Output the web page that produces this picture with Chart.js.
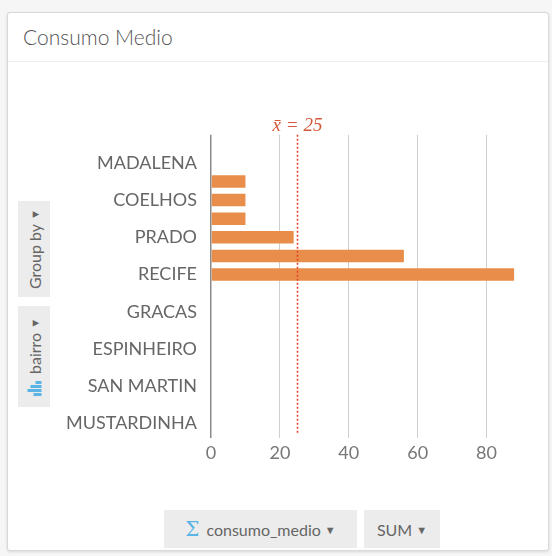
<!DOCTYPE html>
<html>
<head>
<meta charset="utf-8">
<script src="https://cdn.jsdelivr.net/npm/chart.js@4/dist/chart.umd.min.js"></script>
<style>
  html, body { margin: 0; padding: 0; }
  body { width: 552px; height: 556px; background: #f6f6f6; position: relative; overflow: hidden; font-family: Lato, "Open Sans", sans-serif; }
  .card { position: absolute; left: 7px; top: 12px; width: 540px; height: 537px; background: #fff;
          border: 1px solid #d8d8d8; border-radius: 3px; box-shadow: 0 1px 3px rgba(0,0,0,0.12); }
  .title { position: absolute; left: 15px; top: 11px; font-size: 21px; font-weight: 300; color: #555; }
  .sep { position: absolute; left: 0; right: 0; top: 48px; height: 1px; background: #efefef; }
  .vbtn { position: absolute; left: 10px; width: 32px; background: #ececec; color: #666; font-size: 16px; }
  .vbtn .rot { position: absolute; left: 50%; top: 50%; transform: translate(-50%, -50%) rotate(-90deg);
               white-space: nowrap; display: flex; align-items: center; }
  .hbtn { position: absolute; top: 497px; height: 38px; background: #ececec; color: #666; font-size: 16px;
          display: flex; align-items: center; justify-content: center; white-space: nowrap; }
  .sigma { color: #5ab4e6; font-family: "DejaVu Serif", serif; font-size: 20px; margin-right: 7px; }
  .tri { font-size: 11px; margin-left: 4px; }
  .icon { display: inline-flex; align-items: flex-end; gap: 1px; height: 14px; margin-right: 7px; }
  .icon i { display: block; width: 3px; background: #5ab4e6; }
  #wrap { position: absolute; left: 50px; top: 110px; width: 490px; height: 360px; }
</style>
</head>
<body>
<div class="card">
  <div class="title">Consumo Medio</div>
  <div class="sep"></div>
  <div class="vbtn" style="top:188px;height:96px;"><div class="rot">Group by<span class="tri">▼</span></div></div>
  <div class="vbtn" style="top:293px;height:101px;"><div class="rot"><span class="icon"><i style="height:8px"></i><i style="height:14px"></i><i style="height:11px"></i><i style="height:6px"></i></span>bairro<span class="tri">▼</span></div></div>
  <div class="hbtn" style="left:156px;width:193px;"><span class="sigma">Σ</span>consumo_medio<span class="tri">▼</span></div>
  <div class="hbtn" style="left:356px;width:76px;">SUM<span class="tri">▼</span></div>
</div>
<div id="wrap"><canvas id="c"></canvas></div>
<script>
// Neighbourhoods (bairro) and their summed average consumption
const bairros = [
  "BOA VISTA", "MADALENA", "DERBY", "COELHOS", "TORRE", "PRADO", "SANTO AMARO", "RECIFE",
  "ENCRUZILHADA", "GRACAS", "ROSARINHO", "ESPINHEIRO", "AFLITOS", "SAN MARTIN", "CAMPO GRANDE", "MUSTARDINHA"
];
const consumoMedio = [0, 0, 10, 10, 10, 24, 56, 88, 0, 0, 0, 0, 0, 0, 0, 0];
const xTicks = [0, 20, 40, 60, 80];
const mediaLinha = 25;

const meanLine = {
  id: 'meanLine',
  afterDatasetsDraw(chart) {
    const { ctx, chartArea, scales } = chart;
    const x = Math.round(scales.x.getPixelForValue(mediaLinha)) + 0.5;
    ctx.save();
    ctx.strokeStyle = '#e2462b';
    ctx.lineWidth = 1.6;
    ctx.setLineDash([2, 2]);
    ctx.beginPath();
    ctx.moveTo(x, chartArea.top);
    ctx.lineTo(x, chartArea.bottom);
    ctx.stroke();
    ctx.setLineDash([]);
    ctx.fillStyle = '#d4583a';
    ctx.font = 'italic 19px "Liberation Serif", serif';
    ctx.textAlign = 'center';
    ctx.textBaseline = 'middle';
    ctx.fillText('x\u0304 = ' + mediaLinha, x, chartArea.top - 9);
    ctx.restore();
  }
};

new Chart(document.getElementById('c'), {
  type: 'bar',
  data: {
    labels: bairros,
    datasets: [{
      data: consumoMedio,
      backgroundColor: '#e98d4a',
      borderWidth: 0,
      barPercentage: 0.67,
      categoryPercentage: 1.0
    }]
  },
  options: {
    indexAxis: 'y',
    responsive: true,
    maintainAspectRatio: false,
    animation: false,
    layout: { padding: { top: 22, right: 19, left: 0, bottom: 0 } },
    plugins: { legend: { display: false }, tooltip: { enabled: false } },
    scales: {
      x: {
        min: 0,
        max: 90,
        afterBuildTicks(scale) { scale.ticks = xTicks.map(v => ({ value: v })); },
        afterFit(scale) { scale.height = 37; },
        border: { display: false },
        grid: {
          color: ctx => ctx.tick && ctx.tick.value === 0 ? '#8a8a8a' : '#cfcfcf',
          lineWidth: ctx => ctx.tick && ctx.tick.value === 0 ? 1.5 : 1,
          tickLength: 5,
          drawTicks: true
        },
        ticks: {
          color: '#777',
          font: { family: 'Lato', size: 18 },
          padding: 4
        }
      },
      y: {
        afterFit(scale) { scale.width = 161; },
        border: { display: false },
        grid: { display: false, drawTicks: false },
        ticks: {
          autoSkip: false,
          color: '#666',
          font: { family: 'Lato', size: 18 },
          padding: 14,
          callback(value, index) { return index % 2 === 1 ? this.getLabelForValue(value) : ''; }
        }
      }
    }
  },
  plugins: [meanLine]
});
</script>
</body>
</html>
